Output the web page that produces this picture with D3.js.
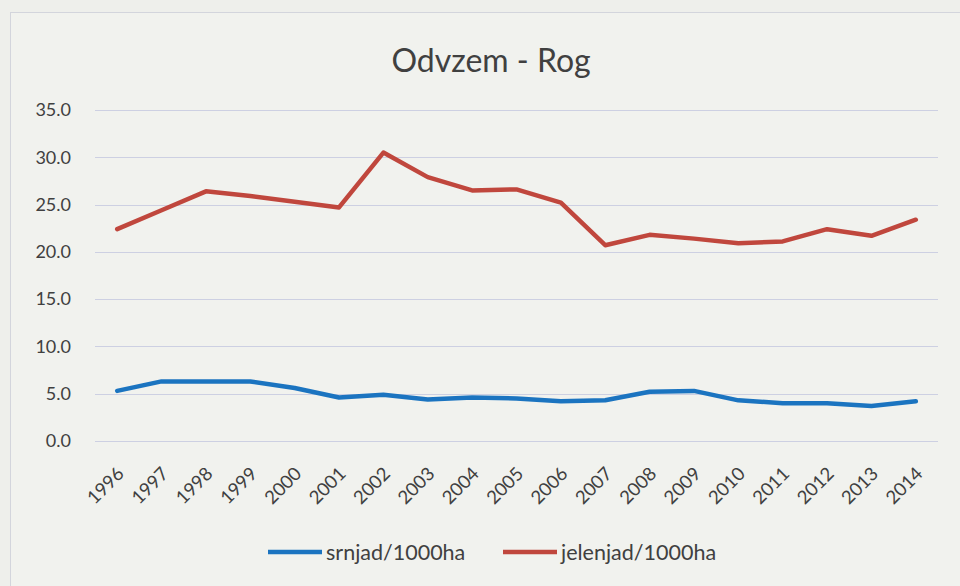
<!DOCTYPE html>
<html>
<head>
<meta charset="utf-8">
<script src="https://cdn.jsdelivr.net/npm/d3@7"></script>
<style>
  body { margin: 0; background: #eeefeb; }
  svg { display: block; font-family: Lato, "Open Sans", sans-serif; }
</style>
</head>
<body>
<div id="chart"></div>
<script>
// podatki
const years = ["1996","1997","1998","1999","2000","2001","2002","2003","2004","2005",
               "2006","2007","2008","2009","2010","2011","2012","2013","2014"];
const srnjad = [5.3, 6.3, 6.3, 6.3, 5.6, 4.6, 4.9, 4.4, 4.6, 4.5,
                4.2, 4.3, 5.2, 5.3, 4.3, 4.0, 4.0, 3.7, 4.2];
const jelenjad = [22.4, 24.4, 26.4, 25.9, 25.3, 24.7, 30.5, 27.9, 26.5, 26.6,
                  25.2, 20.7, 21.8, 21.4, 20.9, 21.1, 22.4, 21.7, 23.4];
const yTicks = [0, 5, 10, 15, 20, 25, 30, 35];
const series = [
    { name: "srnjad/1000ha", values: srnjad, color: "#1b74c0" },
    { name: "jelenjad/1000ha", values: jelenjad, color: "#c0473d" }
];

const width = 960, height = 586;
const plotLeft = 95, plotRight = 938;

const svg = d3.select("#chart").append("svg")
    .attr("width", width)
    .attr("height", height);

// okvir grafa
svg.append("rect")
    .attr("x", 10.5).attr("y", 12.5)
    .attr("width", 980).attr("height", 600)
    .attr("fill", "#f1f2ee")
    .attr("stroke", "#d3d5dc");

const x = d3.scaleBand()
    .domain(years)
    .range([plotLeft, plotRight]);

const y = d3.scaleLinear()
    .domain([0, 35])
    .range([441, 110]);

// mreža
svg.append("g")
    .selectAll("line")
    .data(yTicks)
    .enter()
    .append("line")
    .attr("x1", plotLeft).attr("x2", plotRight)
    .attr("y1", d => Math.round(y(d)) + 0.5)
    .attr("y2", d => Math.round(y(d)) + 0.5)
    .attr("stroke", "#cdd0e2")
    .attr("stroke-width", 1.2);

// y os
const yAxis = svg.append("g")
    .attr("transform", "translate(74,0)")
    .call(d3.axisLeft(y).tickValues(yTicks).tickFormat(d3.format(".1f")).tickSize(0));
yAxis.select(".domain").remove();
yAxis.selectAll("text")
    .attr("font-size", 18)
    .attr("font-family", "Lato, 'Open Sans', sans-serif")
    .attr("fill", "#404040");

// x os
const xAxis = svg.append("g")
    .attr("transform", "translate(0,441)")
    .call(d3.axisBottom(x).tickSize(0));
xAxis.select(".domain").remove();
xAxis.selectAll("text")
    .attr("font-size", 18.5)
    .attr("font-family", "Lato, 'Open Sans', sans-serif")
    .attr("fill", "#404040")
    .attr("text-anchor", "end")
    .attr("dy", null)
    .attr("y", 0)
    .attr("transform", "translate(8,34) rotate(-45)");

// črte
const line = d3.line()
    .x((d, i) => x(years[i]) + x.bandwidth() / 2)
    .y(d => y(d));

svg.selectAll(".series")
    .data(series)
    .enter()
    .append("path")
    .attr("class", "series")
    .attr("d", d => line(d.values))
    .attr("fill", "none")
    .attr("stroke", d => d.color)
    .attr("stroke-width", 4.5)
    .attr("stroke-linejoin", "round")
    .attr("stroke-linecap", "round");

// naslov
svg.append("text")
    .attr("x", 491).attr("y", 72)
    .attr("text-anchor", "middle")
    .attr("font-size", 32)
    .attr("fill", "#404040")
    .text("Odvzem - Rog");

// legenda
const legendX = [268, 503];
const legend = svg.selectAll(".legend")
    .data(series)
    .enter()
    .append("g")
    .attr("class", "legend")
    .attr("transform", (d, i) => `translate(${legendX[i]},552)`);
legend.append("line")
    .attr("x1", 0).attr("x2", 54)
    .attr("stroke", d => d.color)
    .attr("stroke-width", 4.5);
legend.append("text")
    .attr("x", 58).attr("y", 8)
    .attr("font-size", 21.5)
    .attr("fill", "#404040")
    .text(d => d.name);
</script>
</body>
</html>
